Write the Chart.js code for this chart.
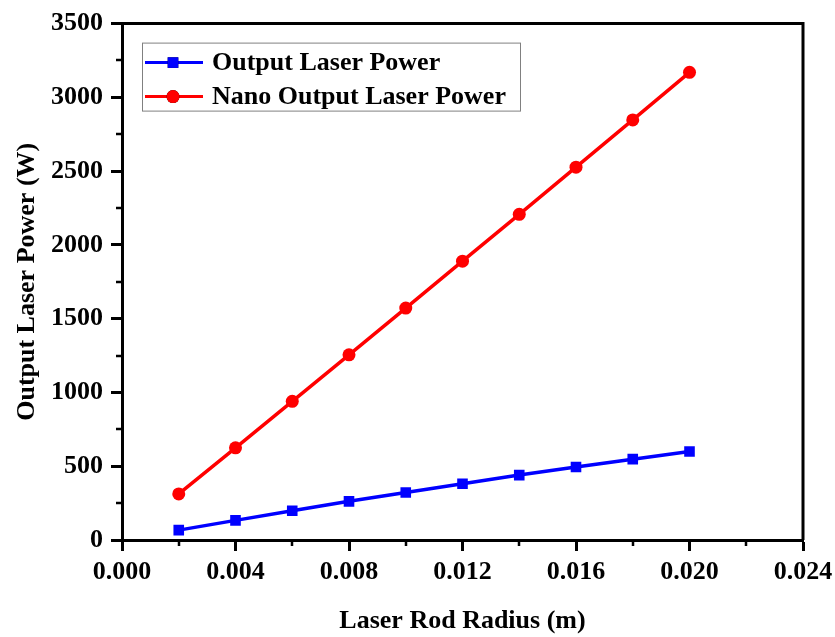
<!DOCTYPE html>
<html>
<head>
<meta charset="utf-8">
<script src="https://cdn.jsdelivr.net/npm/chart.js@4/dist/chart.umd.min.js"></script>
<style>
  html, body { margin: 0; padding: 0; background: #fff; }
  #wrap { width: 835px; height: 637px; }
</style>
</head>
<body>
<div id="wrap"><canvas id="c" width="835" height="637"></canvas></div>
<script>
// laser rod radius (m)
const radius = [0.002, 0.004, 0.006, 0.008, 0.010, 0.012, 0.014, 0.016, 0.018, 0.020];
// output power (W)
const outputPower = [67, 133, 198, 262, 322, 381, 440, 495, 548, 600];
const nanoOutputPower = [312, 625, 940, 1255, 1572, 1890, 2207, 2527, 2847, 3170];
const seriesNames = ['Output Laser Power', 'Nano Output Laser Power'];
const xTitle = 'Laser Rod Radius (m)';
const yTitle = 'Output Laser Power (W)';

const FONT = '"Liberation Serif", "Times New Roman", serif';

// minor ticks + top/right frame
const framePlugin = {
  id: 'frame',
  afterDraw(chart) {
    const { ctx, chartArea: a, scales: { x, y } } = chart;
    ctx.save();
    ctx.strokeStyle = '#000';
    ctx.lineWidth = 3;
    ctx.beginPath();
    ctx.moveTo(a.left, a.top);
    ctx.lineTo(a.right, a.top);
    ctx.lineTo(a.right, a.bottom);
    ctx.stroke();
    ctx.lineWidth = 2.5;
    ctx.beginPath();
    for (let v = 250; v < 3500; v += 500) {
      const py = Math.round(y.getPixelForValue(v));
      ctx.moveTo(a.left - 6, py);
      ctx.lineTo(a.left, py);
    }
    for (let v = 0.002; v < 0.024; v += 0.004) {
      const px = Math.round(x.getPixelForValue(v));
      ctx.moveTo(px, a.bottom);
      ctx.lineTo(px, a.bottom + 6);
    }
    ctx.stroke();
    ctx.restore();
  }
};

// boxed legend inside the plot
const legendPlugin = {
  id: 'boxLegend',
  afterDraw(chart) {
    const { ctx, chartArea: a } = chart;
    const bx = a.left + 20, by = a.top + 19, bw = 378, bh = 68;
    ctx.save();
    ctx.strokeStyle = '#808080';
    ctx.lineWidth = 1;
    ctx.strokeRect(bx + 0.5, by + 0.5, bw, bh);
    ctx.font = 'bold 26px ' + FONT;
    ctx.textBaseline = 'middle';
    ctx.fillStyle = '#000';
    chart.data.datasets.forEach((ds, i) => {
      const cy = by + 20 + i * 34;
      ctx.strokeStyle = ds.borderColor;
      ctx.lineWidth = 3;
      ctx.beginPath();
      ctx.moveTo(bx + 3, cy);
      ctx.lineTo(bx + 61, cy);
      ctx.stroke();
      Chart.helpers.drawPoint(ctx, { pointStyle: ds.pointStyle, radius: ds.pointRadius, borderWidth: 0 }, bx + 31, cy);
      ctx.fillStyle = ds.borderColor;
      ctx.fill();
      ctx.fillStyle = '#000';
      ctx.fillText(ds.label, bx + 70, cy + 1);
    });
    ctx.restore();
  }
};

const toXY = vals => vals.map((v, i) => ({ x: radius[i], y: v }));

new Chart(document.getElementById('c'), {
  type: 'line',
  data: {
    datasets: [
      {
        label: seriesNames[0],
        data: toXY(outputPower),
        borderColor: '#0000ff',
        backgroundColor: '#0000ff',
        borderWidth: 3.5,
        pointStyle: 'rect',
        pointRadius: 7.5,
        pointBorderWidth: 0
      },
      {
        label: seriesNames[1],
        data: toXY(nanoOutputPower),
        borderColor: '#ff0000',
        backgroundColor: '#ff0000',
        borderWidth: 3.5,
        pointStyle: 'circle',
        pointRadius: 6.5,
        pointBorderWidth: 0
      }
    ]
  },
  options: {
    responsive: false,
    animation: false,
    layout: { padding: { top: 19, right: 32, left: 0, bottom: 0 } },
    plugins: { legend: { display: false }, tooltip: { enabled: false } },
    scales: {
      x: {
        type: 'linear',
        min: 0, max: 0.024,
        afterFit: s => { s.height = 97; s.paddingRight = 0; },
        ticks: {
          stepSize: 0.004,
          padding: 6,
          color: '#000',
          font: { family: FONT, size: 26, weight: 'bold' },
          callback: v => v.toFixed(3)
        },
        grid: { drawOnChartArea: false, tickLength: 11, tickWidth: 3, tickColor: '#000' },
        border: { color: '#000', width: 3 },
        title: {
          display: true, text: xTitle, color: '#000',
          font: { family: FONT, size: 26, weight: 'bold' },
          padding: { top: 0, bottom: 0 }
        }
      },
      y: {
        min: 0, max: 3500,
        afterFit: s => { s.width = 122; },
        ticks: {
          stepSize: 500,
          padding: 8,
          color: '#000',
          font: { family: FONT, size: 26, weight: 'bold' },
          callback: v => String(v)
        },
        grid: { drawOnChartArea: false, tickLength: 11, tickWidth: 3, tickColor: '#000' },
        border: { color: '#000', width: 3 },
        title: {
          display: true, text: yTitle, color: '#000',
          font: { family: FONT, size: 26, weight: 'bold' },
          padding: { top: 12, bottom: 0 }
        }
      }
    }
  },
  plugins: [framePlugin, legendPlugin]
});
</script>
</body>
</html>
